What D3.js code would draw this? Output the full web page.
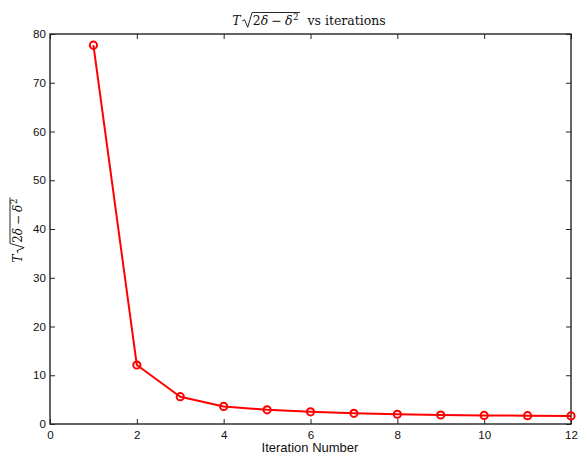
<!DOCTYPE html>
<html><head><meta charset="utf-8">
<script src="https://cdn.jsdelivr.net/npm/d3@7"></script>
<style>body{margin:0;background:#fff}svg{display:block}</style>
</head><body>
<svg id="chart" width="578" height="455"></svg>
<script>
const iterations = [1,2,3,4,5,6,7,8,9,10,11,12];
const values = [77.7,12.1,5.6,3.6,2.9,2.5,2.2,2.0,1.85,1.75,1.7,1.65];
const xTicks = [0,2,4,6,8,10,12];
const yTicks = [0,10,20,30,40,50,60,70,80];

const svg = d3.select("#chart");
const L=50,R=571,T=34,B=424;
const x = d3.scaleLinear().domain([0,12]).range([L,R]);
const y = d3.scaleLinear().domain([0,80]).range([B,T]);
const tickFont = "Liberation Sans, Arial, Helvetica, sans-serif";

svg.append("rect").attr("x",L).attr("y",T).attr("width",R-L).attr("height",B-T)
  .attr("fill","none").attr("stroke","#111").attr("stroke-width",1.3);

const xb = svg.append("g").attr("transform",`translate(0,${B})`)
  .call(d3.axisBottom(x).tickValues(xTicks).tickSizeInner(-5).tickSizeOuter(0).tickPadding(7).tickFormat(d3.format("d")));
const xt = svg.append("g").attr("transform",`translate(0,${T})`)
  .call(d3.axisTop(x).tickValues(xTicks).tickSizeInner(-5).tickSizeOuter(0).tickFormat(""));
const yl = svg.append("g").attr("transform",`translate(${L},0)`)
  .call(d3.axisLeft(y).tickValues(yTicks).tickSizeInner(-5).tickSizeOuter(0).tickPadding(4).tickFormat(d3.format("d")));
const yr = svg.append("g").attr("transform",`translate(${R},0)`)
  .call(d3.axisRight(y).tickValues(yTicks).tickSizeInner(-5).tickSizeOuter(0).tickFormat(""));
[xb,xt,yl,yr].forEach(g=>{
  g.select(".domain").remove();
  g.selectAll(".tick line").attr("stroke","#222").attr("stroke-width",1);
  g.selectAll("text").attr("font-family",tickFont).attr("font-size",11.6).attr("fill","#111");
});

const line = d3.line().x((d,i)=>x(iterations[i])).y(d=>y(d));
svg.append("path").datum(values).attr("d",line).attr("fill","none")
  .attr("stroke","#f00").attr("stroke-width",2).attr("stroke-linejoin","round");
svg.selectAll("circle.m").data(values).enter().append("circle").attr("class","m")
  .attr("cx",(d,i)=>x(iterations[i])).attr("cy",d=>y(d)).attr("r",3.6)
  .attr("fill","none").attr("stroke","#f00").attr("stroke-width",2);

svg.append("text").attr("x",310).attr("y",452).attr("text-anchor","middle")
  .attr("font-family",tickFont).attr("font-size",13).attr("fill","#111").text("Iteration Number");

const serif = "DejaVu Serif, Liberation Serif, serif";
function mathLabel(g, fs, suffix){
  let cx = 0;
  const add = (txt, italic, size, dy) => {
    const t = g.append("text").attr("x",cx).attr("y",dy||0).attr("font-family",serif)
      .attr("font-size",size||fs).attr("fill","#111").text(txt);
    if(italic) t.attr("font-style","italic");
    cx += t.node().getComputedTextLength();
    return t;
  };
  add("T", true);
  cx += fs*0.12;
  const radStart = cx;
  const radW = fs*0.85;
  cx += radW;
  add("2"); add("δ", true);
  cx += fs*0.25; add("−"); cx += fs*0.25;
  add("δ", true); cx += fs*0.05;
  add("2", false, fs*0.7, -fs*0.42);
  cx += fs*0.1;
  const top = -fs*1.0;
  g.append("path").attr("d",`M${radStart},${-fs*0.32} L${radStart+fs*0.2},${-fs*0.42} L${radStart+fs*0.45},${fs*0.18} L${radStart+radW-fs*0.05},${top} L${cx},${top}`)
    .attr("fill","none").attr("stroke","#111").attr("stroke-width",0.9);
  if(suffix){
    cx += fs*0.6;
    add(suffix);
  }
  return cx;
}
const tg = svg.append("g");
const tw = mathLabel(tg, 12.5, "vs iterations");
tg.attr("transform",`translate(${309 - tw/2},25)`);

const yg = svg.append("g");
const yw = mathLabel(yg, 12, null);
yg.attr("transform",`translate(22,${230 + yw/2}) rotate(-90)`);
</script>
</body></html>
